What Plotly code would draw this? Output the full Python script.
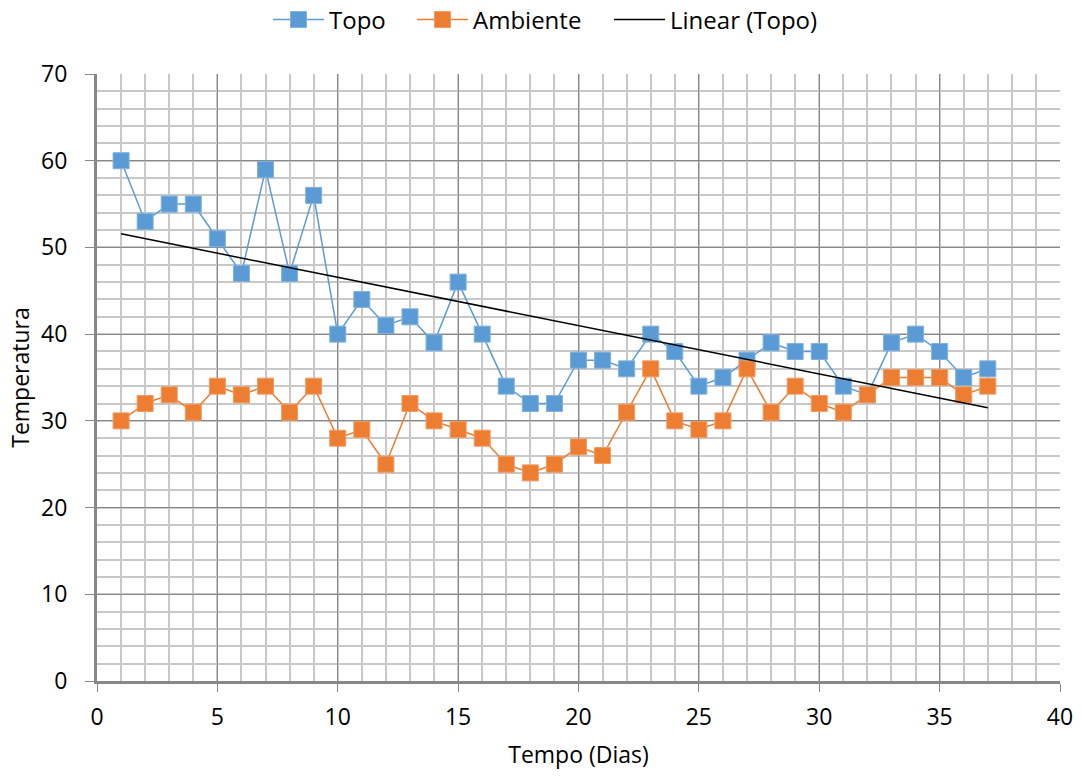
import numpy as np
import plotly.graph_objects as go

# Dias de medição
dias = list(range(1, 38))

# Temperaturas medidas
topo = [60, 53, 55, 55, 51, 47, 59, 47, 56, 40, 44, 41, 42, 39, 46, 40, 34, 32, 32,
        37, 37, 36, 40, 38, 34, 35, 37, 39, 38, 38, 34, 33, 39, 40, 38, 35, 36]
ambiente = [30, 32, 33, 31, 34, 33, 34, 31, 34, 28, 29, 25, 32, 30, 29, 28, 25, 24, 25,
            27, 26, 31, 36, 30, 29, 30, 36, 31, 34, 32, 31, 33, 35, 35, 35, 33, 34]

x_ticks = [0, 5, 10, 15, 20, 25, 30, 35, 40]
y_ticks = [0, 10, 20, 30, 40, 50, 60, 70]

BLUE = "#5B9BD5"
ORANGE = "#ED7D31"
FONT = "Open Sans"

# Linha de tendência linear (mínimos quadrados) sobre a série Topo
coef = np.polyfit(dias, topo, 1)
trend_x = [dias[0], dias[-1]]
trend_y = [float(np.polyval(coef, v)) for v in trend_x]

fig = go.Figure()
fig.add_trace(go.Scatter(
    x=dias, y=topo, name="Topo", mode="lines+markers", legend="legend",
    line=dict(color=BLUE, width=1.5),
    marker=dict(symbol="square", size=16, color=BLUE,
                line=dict(color="#7FB2E0", width=1)),
))
fig.add_trace(go.Scatter(
    x=dias, y=ambiente, name="Ambiente", mode="lines+markers", legend="legend2",
    line=dict(color=ORANGE, width=1.5),
    marker=dict(symbol="square", size=16, color=ORANGE,
                line=dict(color="#F29B63", width=1)),
))
fig.add_trace(go.Scatter(
    x=trend_x, y=trend_y, name="Linear (Topo)", mode="lines", legend="legend3",
    line=dict(color="black", width=1.5),
))

# Uma legenda por série, alinhadas na faixa superior
leg_common = dict(orientation="h", y=1.089, yanchor="middle", xanchor="left",
                  font=dict(size=24), itemwidth=51, bgcolor="rgba(0,0,0,0)")
fig.update_layout(
    width=1082, height=776,
    margin=dict(l=97, r=22, t=74, b=95, autoexpand=False),
    paper_bgcolor="white", plot_bgcolor="white",
    font=dict(family=FONT, size=23, color="black"),
    legend=dict(x=0.1776, **leg_common),
    legend2=dict(x=0.3271, **leg_common),
    legend3=dict(x=0.5317, **leg_common),
    showlegend=True,
)
fig.update_xaxes(
    range=[0, 40], tickvals=x_ticks, ticks="outside", ticklen=8, tickcolor="#888888",
    tickfont=dict(size=23), ticklabelstandoff=5,
    showgrid=True, gridcolor="#888888", gridwidth=1,
    minor=dict(tickvals=list(range(0, 41)), showgrid=True, gridcolor="#C8C8C8", gridwidth=1.5),
    showline=True, linecolor="#888888", linewidth=3,
    zeroline=False,
    title=dict(text="Tempo (Dias)", font=dict(size=23), standoff=17),
)
fig.update_yaxes(
    range=[0, 70], tickvals=y_ticks, ticks="outside", ticklen=9, tickcolor="#888888",
    tickfont=dict(size=23), ticklabelstandoff=13,
    showgrid=True, gridcolor="#888888", gridwidth=1,
    minor=dict(tickvals=list(range(0, 71, 2)), showgrid=True, gridcolor="#C8C8C8", gridwidth=1.5),
    showline=True, linecolor="#888888", linewidth=3,
    zeroline=False,
    title=dict(text="Temperatura", font=dict(size=23), standoff=6),
)

fig.write_html("out.html")
